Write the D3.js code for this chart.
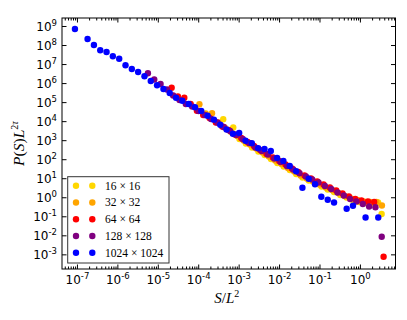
<!DOCTYPE html>
<html><head><meta charset="utf-8">
<script src="https://cdn.jsdelivr.net/npm/d3@7"></script>
<style>body{margin:0;background:#fff}</style>
</head><body>
<svg id="c" width="407" height="320"></svg>
<script>
// ---- data ----
const seriesLabels = ["16 × 16", "32 × 32", "64 × 64", "128 × 128", "1024 × 1024"];
const seriesColors = ["#FFD700", "#FFA500", "#FF0000", "#800080", "#0000FF"];

const x16 = [4.16e-4,7.35e-4,1.05e-3,1.51e-3,2.15e-3,3.08e-3,4.42e-3,6.32e-3,9.06e-3,1.30e-2,1.85e-2,2.65e-2,3.80e-2,5.45e-2,7.80e-2,0.112,0.160,0.229,0.327,0.469,0.671,0.962,1.37,1.97,2.82,3.44];
const y16 = [1.25e4,4.63e3,1.15e3,670,412,254,166,103,63.2,41.4,27.1,16.7,10.9,7.60,5.30,3.68,2.56,1.89,1.32,0.973,0.718,0.564,0.500,0.500,0.531,0.132];

const x32 = [1.07e-4,1.53e-4,2.20e-4,3.14e-4,4.53e-4,6.49e-4,9.27e-4,1.33e-3,1.90e-3,2.74e-3,3.92e-3,5.61e-3,8.04e-3,1.15e-2,1.66e-2,2.37e-2,3.40e-2,4.85e-2,6.95e-2,0.100,0.143,0.205,0.294,0.421,0.605,0.867,1.24,1.78,2.54,3.50];
const y32 = [7.67e4,2.52e4,2.59e4,8.49e3,4.63e3,2.69e3,1.66e3,962,593,366,225,139,85.5,56.0,34.5,22.6,13.9,9.68,6.75,4.69,3.26,2.41,1.67,1.17,0.861,0.718,0.600,0.564,0.564,0.369];

const x64 = [2.20e-5,3.15e-5,4.53e-5,6.49e-5,9.29e-5,1.33e-4,1.91e-4,2.74e-4,3.93e-4,5.62e-4,8.09e-4,1.16e-3,1.66e-3,2.39e-3,3.42e-3,4.90e-3,7.05e-3,1.01e-2,1.45e-2,2.08e-2,2.98e-2,4.27e-2,6.14e-2,8.79e-2,0.126,0.181,0.259,0.371,0.535,0.766,1.09,1.58,2.25,3.85];
const y64 = [5.73e5,1.97e5,1.71e5,7.96e4,3.54e4,2.10e4,1.47e4,8.49e3,5.24e3,3.43e3,1.99e3,1.30e3,802,494,305,188,123,80.5,52.7,32.5,21.3,13.9,9.68,6.75,4.69,3.26,2.27,1.58,1.10,0.811,0.676,0.600,0.564,7.53e-4];

const x128 = [5.70e-6,8.17e-6,1.17e-5,1.68e-5,2.40e-5,3.45e-5,4.94e-5,7.08e-5,1.02e-4,1.46e-4,2.08e-4,2.99e-4,4.28e-4,6.14e-4,8.79e-4,1.26e-3,1.81e-3,2.59e-3,3.72e-3,5.32e-3,7.62e-3,1.09e-2,1.57e-2,2.24e-2,3.21e-2,4.61e-2,6.61e-2,9.46e-2,0.136,0.195,0.279,0.400,0.573,0.820,1.18,1.69,2.42,3.46];
const y128 = [3.27e6,1.55e6,8.96e5,4.60e5,2.23e5,1.29e5,7.96e4,5.89e4,3.41e4,2.10e4,1.30e4,8.49e3,4.93e3,3.03e3,1.87e3,1.15e3,711,412,270,177,109,71.3,44.0,28.8,18.2,12.3,8.59,5.97,3.91,2.72,1.78,1.24,0.811,0.600,0.443,0.327,0.297,8.47e-3];

const x1024 = [8.92e-8,1.83e-7,2.63e-7,3.77e-7,5.40e-7,7.73e-7,1.11e-6,1.59e-6,2.28e-6,3.26e-6,4.68e-6,6.70e-6,9.60e-6,1.38e-5,1.97e-5,2.83e-5,4.05e-5,5.81e-5,8.32e-5,1.19e-4,1.71e-4,2.45e-4,3.51e-4,5.03e-4,7.21e-4,1.03e-3,1.48e-3,2.12e-3,3.04e-3,4.36e-3,6.25e-3,8.95e-3,1.28e-2,1.84e-2,2.64e-2,3.78e-2,5.42e-2,7.76e-2,0.111,0.160,0.229,0.470,0.673,1.38,2.84];
const y1024 = [6.95e8,2.07e8,1.0e8,5.28e7,4.31e7,2.56e7,1.91e7,8.6e6,5.5e6,3.83e6,2.28e6,1.29e6,7.65e5,4.89e5,3.01e5,1.71e5,1.19e5,7.96e4,5.35e4,3.41e4,1.93e4,1.2e4,6.5e3,3.64e3,2.19e3,2.38e3,940,686,374,344,270,116,80.5,44,23.4,3.18,9.33,4.8,1.07,0.745,0.53,0.25,0.356,0.0865,0.0865];

const xTickExps = [-7,-6,-5,-4,-3,-2,-1,0];
const yTickExps = [9,8,7,6,5,4,3,2,1,0,-1,-2,-3];

const allX = [x16, x32, x64, x128, x1024];
const allY = [y16, y32, y64, y128, y1024];

// ---- layout ----
const L = 62, R = 395.5, T = 18, B = 269;
const svg = d3.select("#c");
const x = d3.scaleLog().domain([4.27e-8, 7.59]).range([L, R]);
const y = d3.scaleLog().domain([1.70e-4, 2.63e9]).range([B, T]);

// data
allX.forEach((xs, i) => {
  const pts = xs.map((v, j) => [v, allY[i][j]]);
  svg.append("g").selectAll("circle").data(pts).join("circle")
    .attr("cx", d => x(d[0])).attr("cy", d => y(d[1])).attr("r", 3.2)
    .attr("fill", seriesColors[i]);
});

// axes
const xMaj = xTickExps.map(e => Math.pow(10, e));
const yMaj = yTickExps.map(e => Math.pow(10, e));
const xMin = [];
for (let e = -8; e <= 0; e++) for (let m = 2; m <= 9; m++) {
  const v = m * Math.pow(10, e);
  if (v > x.domain()[0] && v < x.domain()[1]) xMin.push(v);
}

function supLabel(sel) {
  sel.each(function(d) {
    const t = d3.select(this);
    const e = Math.round(Math.log10(d));
    t.text(null);
    t.append("tspan").text("10");
    t.append("tspan").attr("dy", -5).attr("font-size", 8.5).text(String(e));
  });
}

const fontTick = "DejaVu Sans";
// bottom
const gb = svg.append("g").attr("transform", `translate(0,${B})`)
  .call(d3.axisBottom(x).tickValues(xMaj).tickSize(-4.5).tickPadding(15));
gb.selectAll(".tick text").attr("dy", 0).attr("font-size", 12).attr("font-family", fontTick).attr("fill", "#000").call(supLabel);
svg.append("g").attr("transform", `translate(0,${B})`)
  .call(d3.axisBottom(x).tickValues(xMin).tickSize(-2.5).tickFormat(""));
// top
svg.append("g").attr("transform", `translate(0,${T})`)
  .call(d3.axisTop(x).tickValues(xMaj).tickSize(-4.5).tickFormat(""));
svg.append("g").attr("transform", `translate(0,${T})`)
  .call(d3.axisTop(x).tickValues(xMin).tickSize(-2.5).tickFormat(""));
// left
const gl = svg.append("g").attr("transform", `translate(${L},0)`)
  .call(d3.axisLeft(y).tickValues(yMaj).tickSize(-4.5).tickPadding(5));
gl.selectAll(".tick text").attr("dy", 4.5).attr("font-size", 12).attr("font-family", fontTick).attr("fill", "#000").call(supLabel);
// right
svg.append("g").attr("transform", `translate(${R},0)`)
  .call(d3.axisRight(y).tickValues(yMaj).tickSize(-4.5).tickFormat(""));

svg.selectAll(".domain").remove();
svg.selectAll(".tick line").attr("stroke", "#000");

svg.append("rect").attr("x", L).attr("y", T).attr("width", R - L).attr("height", B - T)
  .attr("fill", "none").attr("stroke", "#000").attr("stroke-width", 1);

// axis labels
const serif = "Liberation Serif";
const xl = svg.append("text").attr("x", (L + R) / 2 - 2).attr("y", 303)
  .attr("text-anchor", "middle").attr("font-family", serif).attr("font-size", 15);
xl.append("tspan").attr("font-style", "italic").text("S");
xl.append("tspan").text("/");
xl.append("tspan").attr("font-style", "italic").text("L");
xl.append("tspan").attr("dy", -6).attr("font-size", 10).text("2");

const yl = svg.append("text").attr("transform", `translate(24,${(T + B) / 2}) rotate(-90)`)
  .attr("text-anchor", "middle").attr("font-family", serif).attr("font-size", 15.5);
yl.append("tspan").attr("font-style", "italic").text("P");
yl.append("tspan").text("(");
yl.append("tspan").attr("font-style", "italic").text("S");
yl.append("tspan").text(")");
yl.append("tspan").attr("font-style", "italic").text("L");
yl.append("tspan").attr("dy", -6).attr("font-size", 10).text("2");
yl.append("tspan").attr("font-size", 10).attr("font-style", "italic").text("τ");

// legend
const lg = svg.append("g");
lg.append("rect").attr("x", 67.7).attr("y", 176.7).attr("width", 101.3).attr("height", 86.3)
  .attr("fill", "#fff").attr("stroke", "#333").attr("stroke-width", 1);
seriesLabels.forEach((lab, i) => {
  const yy = 185.7 + i * 16.75;
  [76, 92.3].forEach(xx => lg.append("circle").attr("cx", xx).attr("cy", yy).attr("r", 3.2).attr("fill", seriesColors[i]));
  lg.append("text").attr("x", 105).attr("y", yy + 4).attr("font-family", serif).attr("font-size", 11.5)
    .attr("fill", "#000").text(lab);
});
</script>
</body></html>
